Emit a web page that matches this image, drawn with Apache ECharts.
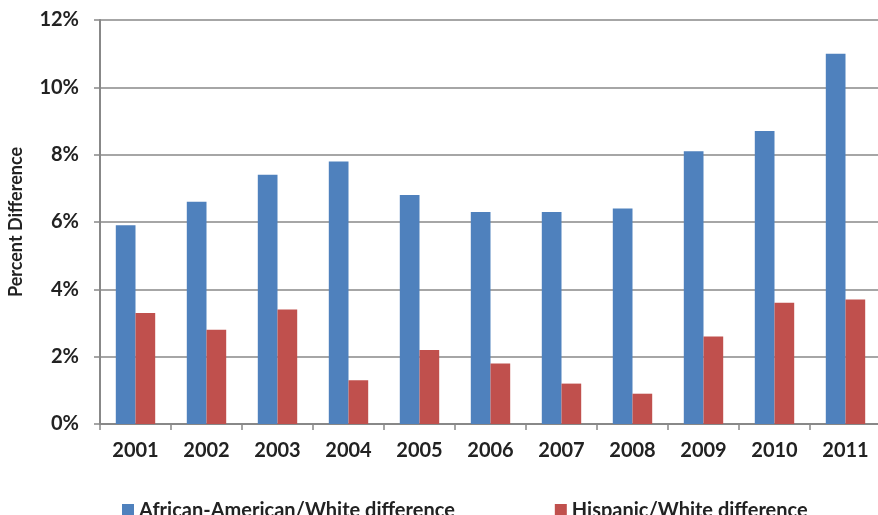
<!DOCTYPE html>
<html>
<head>
<meta charset="utf-8">
<script src="https://cdn.jsdelivr.net/npm/echarts@6/dist/echarts.min.js"></script>
<style>
html,body{margin:0;padding:0;background:#fff;}
#chart{width:878px;height:515px;}
</style>
</head>
<body>
<div id="chart"></div>
<script>
// Years on the category axis
const years = ['2001','2002','2003','2004','2005','2006','2007','2008','2009','2010','2011'];
// Percent differences by year
const africanAmericanWhite = [5.9, 6.6, 7.4, 7.8, 6.8, 6.3, 6.3, 6.4, 8.1, 8.7, 11.0];
const hispanicWhite = [3.3, 2.8, 3.4, 1.3, 2.2, 1.8, 1.2, 0.9, 2.6, 3.6, 3.7];
const seriesNames = ['African-American/White difference', 'Hispanic/White difference'];

const font = 'Lato, "Open Sans", sans-serif';
const chart = echarts.init(document.getElementById('chart'));
chart.setOption({
  animation: false,
  textStyle: { fontFamily: font },
  grid: { left: 100, right: -3, top: 20, bottom: 91, containLabel: false, outerBoundsMode: 'none' },
  legend: {
    left: 117, top: 496,
    itemWidth: 12, itemHeight: 14, itemGap: 100,
    icon: 'rect',
    textStyle: { fontFamily: font, fontWeight: 'bold', fontSize: 20, color: '#222' },
    data: seriesNames
  },
  xAxis: {
    type: 'category',
    data: years,
    axisLine: { lineStyle: { color: '#888', width: 2 } },
    axisTick: { show: true, length: 6, lineStyle: { color: '#888', width: 1.5 } },
    axisLabel: { margin: 17, fontFamily: font, fontWeight: 'bold', fontSize: 20, color: '#222' }
  },
  yAxis: {
    type: 'value',
    min: 0, max: 12, interval: 2,
    name: 'Percent Difference',
    nameLocation: 'middle',
    nameGap: 75,
    nameTextStyle: { fontFamily: font, fontWeight: 'bold', fontSize: 18, color: '#222' },
    axisLine: { show: true, lineStyle: { color: '#888', width: 2 } },
    axisTick: { show: true, length: 6, lineStyle: { color: '#888', width: 1.5 } },
    splitLine: { lineStyle: { color: '#888', width: 1.5 } },
    axisLabel: { margin: 21, fontFamily: font, fontWeight: 'bold', fontSize: 20, color: '#222', formatter: '{value}%' }
  },
  series: [
    {
      name: seriesNames[0], type: 'bar', data: africanAmericanWhite,
      barGap: '0%', barCategoryGap: '44.5%',
      itemStyle: { color: '#4f81bd' }
    },
    {
      name: seriesNames[1], type: 'bar', data: hispanicWhite,
      barGap: '0%', barCategoryGap: '44.5%',
      itemStyle: { color: '#c0504d' }
    }
  ]
});
</script>
</body>
</html>
